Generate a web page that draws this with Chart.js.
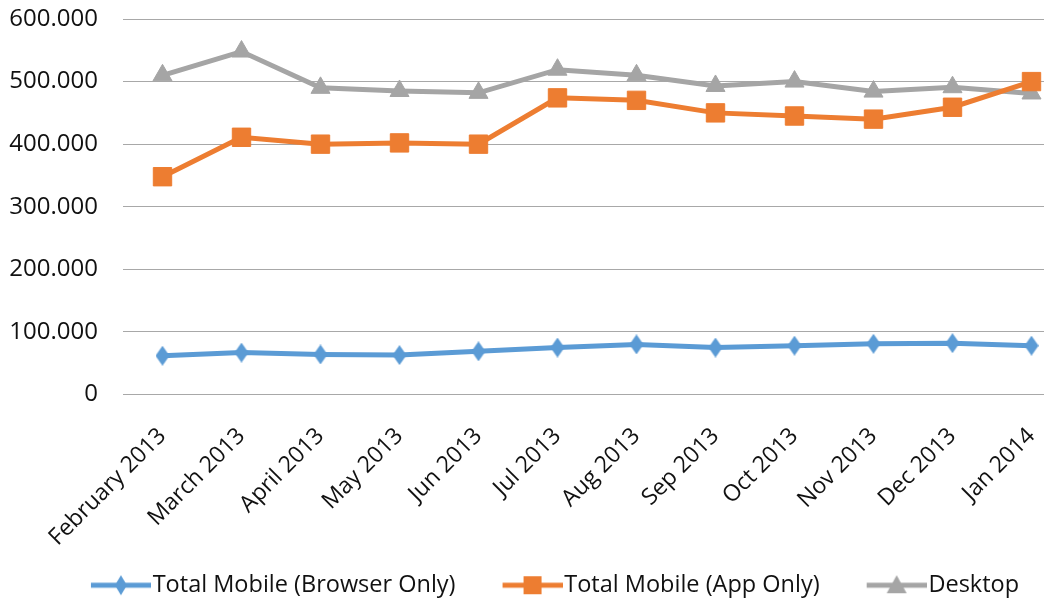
<!DOCTYPE html>
<html>
<head>
<meta charset="utf-8">
<script src="https://cdn.jsdelivr.net/npm/chart.js@4.4.0/dist/chart.umd.min.js"></script>
<style>
  html, body { margin: 0; padding: 0; background: #fff; overflow: hidden; }
  /* canvas runs a little past the right edge of the window, like the cropped original */
  canvas { display: block; }
</style>
</head>
<body>
<canvas id="chart" width="1071" height="603"></canvas>
<script>
// months on the x axis
const months = ['February 2013', 'March 2013', 'April 2013', 'May 2013', 'Jun 2013', 'Jul 2013',
    'Aug 2013', 'Sep 2013', 'Oct 2013', 'Nov 2013', 'Dec 2013', 'Jan 2014'];

// series values
const mobileBrowser = [62000, 67000, 64000, 63000, 69000, 75000, 80000, 75000, 78000, 81000, 82000, 78000];
const mobileApp = [348000, 411000, 400000, 402000, 400000, 474000, 470000, 450000, 445000, 440000, 459000, 500000];
const desktop = [510000, 548000, 490000, 485000, 482000, 519000, 510000, 493000, 500000, 484000, 491000, 481000];

const yTicks = [0, 100000, 200000, 300000, 400000, 500000, 600000];

const BLUE = '#5b9bd5', ORANGE = '#ed7d31', GRAY = '#a5a5a5';
const FONT = 'Open Sans';

function fmt(v) {
    return v === 0 ? '0' : String(v).replace(/\B(?=(\d{3})+(?!\d))/g, '.');
}

// tall diamond marker like Excel's
function diamond(color) {
    const c = document.createElement('canvas');
    c.width = 14; c.height = 20;
    const g = c.getContext('2d');
    g.fillStyle = color;
    g.beginPath();
    g.moveTo(7, 0); g.lineTo(14, 10); g.lineTo(7, 20); g.lineTo(0, 10);
    g.closePath(); g.fill();
    return c;
}

// legend icon: blank space on the left (item spacing), then line with marker
function legendIcon(color, shape) {
    const c = document.createElement('canvas');
    c.width = 109; c.height = 22;
    const g = c.getContext('2d');
    const x0 = 49, mid = x0 + 30;
    g.strokeStyle = color; g.fillStyle = color; g.lineWidth = 5;
    g.beginPath(); g.moveTo(x0, 11); g.lineTo(x0 + 60, 11); g.stroke();
    g.beginPath();
    if (shape === 'diamond') {
        g.moveTo(mid, 1); g.lineTo(mid + 6, 11); g.lineTo(mid, 21); g.lineTo(mid - 6, 11);
    } else if (shape === 'square') {
        g.rect(mid - 9, 2, 18, 18);
    } else {
        g.moveTo(mid, 1); g.lineTo(mid + 10, 19); g.lineTo(mid - 10, 19);
    }
    g.closePath(); g.fill();
    return c;
}

const icons = [legendIcon(BLUE, 'diamond'), legendIcon(ORANGE, 'square'), legendIcon(GRAY, 'triangle')];

new Chart(document.getElementById('chart'), {
    type: 'line',
    data: {
        labels: months,
        datasets: [{
            label: 'Total Mobile (Browser Only)',
            data: mobileBrowser,
            borderColor: BLUE,
            backgroundColor: BLUE,
            borderWidth: 5,
            pointStyle: diamond(BLUE),
            pointRadius: 10
        }, {
            label: 'Total Mobile (App Only)',
            data: mobileApp,
            borderColor: ORANGE,
            backgroundColor: ORANGE,
            borderWidth: 5,
            pointStyle: 'rect',
            pointRadius: 13,
            pointBorderWidth: 1
        }, {
            label: 'Desktop',
            data: desktop,
            borderColor: GRAY,
            backgroundColor: GRAY,
            borderWidth: 5,
            pointStyle: 'triangle',
            pointRadius: 11,
            pointBorderWidth: 1
        }]
    },
    options: {
        responsive: false,
        animation: false,
        layout: { autoPadding: false, padding: { top: 19, left: 0, right: 0, bottom: -4 } },
        scales: {
            x: {
                offset: true,
                grid: { display: false },
                border: { display: false },
                ticks: {
                    autoSkip: false,
                    maxRotation: 45,
                    minRotation: 45,
                    padding: 20,
                    color: '#111',
                    font: { family: FONT, size: 23 }
                },
                afterFit: s => { s.paddingRight = 0; s.paddingLeft = 0; s.height = 171; }
            },
            y: {
                min: 0,
                max: 600000,
                grid: { color: '#a8a8a8', lineWidth: 1, drawTicks: false },
                border: { display: false },
                afterBuildTicks: s => { s.ticks = yTicks.map(v => ({ value: v })); },
                ticks: {
                    padding: 25,
                    color: '#111',
                    font: { family: FONT, size: 24 },
                    callback: v => fmt(v)
                },
                afterFit: s => { s.width = 123; s.paddingTop = 0; s.paddingBottom = 0; }
            }
        },
        plugins: {
            tooltip: { enabled: false },
            legend: {
                position: 'bottom',
                labels: {
                    usePointStyle: true,
                    pointStyleWidth: 89,
                    padding: 8,
                    color: '#111',
                    font: { family: FONT, size: 23.5 },
                    generateLabels: chart => chart.data.datasets.map((ds, i) => ({
                        text: ds.label,
                        fillStyle: ds.borderColor,
                        strokeStyle: ds.borderColor,
                        fontColor: '#111',
                        lineWidth: 0,
                        pointStyle: icons[i],
                        hidden: false,
                        datasetIndex: i
                    }))
                }
            }
        }
    }
});
</script>
</body>
</html>
